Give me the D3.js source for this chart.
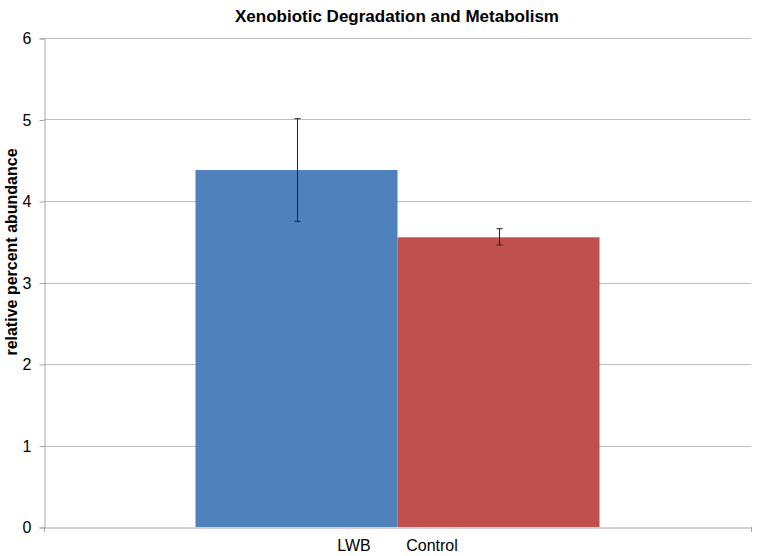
<html>
<head>
<meta charset="utf-8">
<title>Xenobiotic Degradation and Metabolism</title>
<style>
  body { margin: 0; background: #fff; }
  text { font-family: "Liberation Sans", Arial, sans-serif; fill: #000; }
</style>
</head>
<body>
<div id="chart"></div>
<script src="https://d3js.org/d3.v7.min.js"></script>
<script>
// data
var category = "LWB        Control";
var seriesNames = ["LWB", "Control"];
var seriesValues = [4.38, 3.555];
var errLow = [3.75, 3.46];
var errHigh = [5.01, 3.66];
var seriesColors = ["#4F81BD", "#C0504D"];
var yTicks = [0, 1, 2, 3, 4, 5, 6];

var width = 757, height = 556;
var margin = {top: 38, right: 6, bottom: 29, left: 44};

var svg = d3.select("#chart").append("svg")
    .attr("width", width).attr("height", height);

var x = d3.scaleBand().domain([category])
    .range([margin.left, width - margin.right])
    .paddingInner(0).paddingOuter(0.375);   // 150% gap like excel
var xs = d3.scaleBand().domain(seriesNames).range([0, x.bandwidth()]);
var y = d3.scaleLinear().domain([0, 6]).range([height - margin.bottom, margin.top]);

// gridlines
svg.append("g").selectAll("line")
    .data(yTicks.slice(1)).enter().append("line")
    .attr("x1", margin.left).attr("x2", width - margin.right)
    .attr("y1", function (d) { return Math.round(y(d)) + 0.5; })
    .attr("y2", function (d) { return Math.round(y(d)) + 0.5; })
    .attr("stroke", "#bdbdbd").attr("stroke-width", 1);

// y axis
var yAxis = svg.append("g")
    .attr("transform", "translate(" + (margin.left + 0.5) + ",0.5)")
    .call(d3.axisLeft(y).tickValues(yTicks).tickFormat(d3.format("d")).tickSize(5).tickPadding(8));
yAxis.select(".domain").attr("stroke", "#a6a6a6");
yAxis.selectAll(".tick line").attr("stroke", "#a6a6a6");
yAxis.selectAll(".tick text").attr("font-size", 16);

// bars
svg.append("g").selectAll("rect")
    .data(seriesValues).enter().append("rect")
    .attr("x", function (d, i) { return x(category) + xs(seriesNames[i]); })
    .attr("width", xs.bandwidth())
    .attr("y", function (d) { return y(d); })
    .attr("height", function (d) { return y(0) - y(d); })
    .attr("fill", function (d, i) { return seriesColors[i]; });

// x axis
var xAxis = svg.append("g")
    .attr("transform", "translate(0," + (Math.round(y(0)) + 0.5) + ")")
    .call(d3.axisBottom(x).tickSize(0).tickPadding(12));
xAxis.select(".domain").attr("stroke", "#a6a6a6");
xAxis.selectAll(".tick text").attr("font-size", 16).style("white-space", "pre");
svg.append("g").selectAll("line")
    .data([margin.left, width - margin.right]).enter().append("line")
    .attr("x1", function (d) { return d + 0.5; }).attr("x2", function (d) { return d + 0.5; })
    .attr("y1", y(0)).attr("y2", y(0) + 5)
    .attr("stroke", "#a6a6a6");

// error bars
var eb = svg.append("g").selectAll("g")
    .data(seriesValues).enter().append("g")
    .attr("stroke", "#222").attr("stroke-width", 1);
function cx(i) { return Math.round(x(category) + xs(seriesNames[i]) + xs.bandwidth() / 2) + 0.5; }
eb.append("line")
    .attr("x1", function (d, i) { return cx(i); }).attr("x2", function (d, i) { return cx(i); })
    .attr("y1", function (d, i) { return y(errHigh[i]); })
    .attr("y2", function (d, i) { return y(errLow[i]); });
eb.append("line")
    .attr("x1", function (d, i) { return cx(i) - 3; }).attr("x2", function (d, i) { return cx(i) + 3; })
    .attr("y1", function (d, i) { return y(errHigh[i]); })
    .attr("y2", function (d, i) { return y(errHigh[i]); });
eb.append("line")
    .attr("x1", function (d, i) { return cx(i) - 3; }).attr("x2", function (d, i) { return cx(i) + 3; })
    .attr("y1", function (d, i) { return y(errLow[i]); })
    .attr("y2", function (d, i) { return y(errLow[i]); });

// titles
svg.append("text")
    .attr("x", 397).attr("y", 22)
    .attr("text-anchor", "middle")
    .attr("font-size", 17).attr("font-weight", "bold")
    .text("Xenobiotic Degradation and Metabolism");

svg.append("text")
    .attr("transform", "translate(17,252) rotate(-90)")
    .attr("text-anchor", "middle")
    .attr("font-size", 16).attr("font-weight", "bold")
    .text("relative percent abundance");
</script>
</body>
</html>
